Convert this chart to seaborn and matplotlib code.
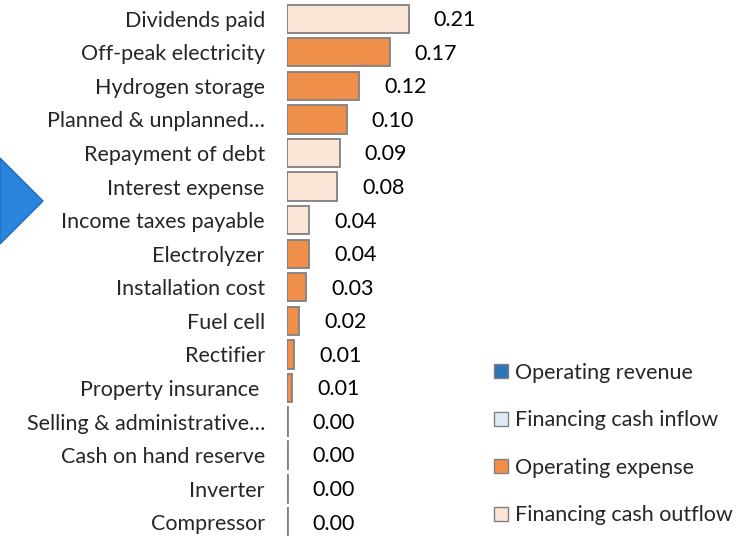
import matplotlib
matplotlib.use('Agg')
import matplotlib.pyplot as plt
from matplotlib.patches import Patch, Polygon
import pandas as pd
import seaborn as sns

#chart data
items = ['Dividends paid', 'Off-peak electricity', 'Hydrogen storage', 'Planned & unplanned\u2026',
         'Repayment of debt', 'Interest expense', 'Income taxes payable', 'Electrolyzer',
         'Installation cost', 'Fuel cell', 'Rectifier', 'Property insurance ',
         'Selling & administrative\u2026', 'Cash on hand reserve', 'Inverter', 'Compressor']
values = [0.210, 0.177, 0.124, 0.103, 0.091, 0.086, 0.038, 0.038,
          0.033, 0.021, 0.012, 0.009, 0.001, 0.001, 0.001, 0.001]
value_labels = ['0.21', '0.17', '0.12', '0.10', '0.09', '0.08', '0.04', '0.04',
                '0.03', '0.02', '0.01', '0.01', '0.00', '0.00', '0.00', '0.00']
types = ['Financing cash outflow', 'Operating expense', 'Operating expense', 'Operating expense',
         'Financing cash outflow', 'Financing cash outflow', 'Financing cash outflow', 'Operating expense',
         'Operating expense', 'Operating expense', 'Operating expense', 'Operating expense',
         'Operating expense', 'Financing cash outflow', 'Operating expense', 'Operating expense']
legend_names = ['Operating revenue', 'Financing cash inflow', 'Operating expense', 'Financing cash outflow']
legend_colors = ['#2e75b6', '#deebf7', '#f08f4a', '#fbe5d6']

df = pd.DataFrame({'item': items, 'value': values, 'type': types})
palette = dict(zip(legend_names, legend_colors))

sns.set_style('white')
plt.rcParams['font.family'] = ['Lato', 'DejaVu Sans']
fs = 15.5

fig = plt.figure(figsize=(7.51, 5.36), dpi=100)
ax = fig.add_axes([287 / 751, -3 / 536, 174 / 751, 537 / 536])

sns.barplot(data=df, x='value', y='item', hue='type', palette=palette, dodge=False, saturation=1,
            orient='h', width=0.84, edgecolor='#808080', linewidth=1.3, legend=False, ax=ax)

#value labels to the right of each bar
for i, (v, lab) in enumerate(zip(values, value_labels)):
    ax.annotate(lab, (v, i), xytext=(18, -1), textcoords='offset points',
                va='center', ha='left', fontsize=fs, color='black')

ax.set_xlim(0, 0.30)
ax.set_ylim(15.5, -0.5)
ax.set_xlabel('')
ax.set_ylabel('')
ax.set_xticks([])
ax.tick_params(axis='y', length=0, pad=16, labelsize=fs)
for s in ax.spines.values():
    s.set_visible(False)

#legend with all four flow types
handles = [Patch(facecolor=c, edgecolor='#808080', linewidth=1) for c in legend_colors]
fig.legend(handles, legend_names, loc='upper left', bbox_to_anchor=(483 / 751, 1 - 352 / 536),
           frameon=False, fontsize=fs, handlelength=0.65, handleheight=0.65,
           handletextpad=0.35, labelspacing=1.28, borderpad=0)

#blue arrow tip poking in from the left edge
fig.patches.append(Polygon([(0, 1 - 158 / 536), (43 / 751, 1 - 201 / 536), (0, 1 - 244 / 536)],
                           closed=True, transform=fig.transFigure, facecolor='#2a84dc',
                           edgecolor='#1b6fbf', linewidth=1))

fig.savefig('out.png', dpi=100)
